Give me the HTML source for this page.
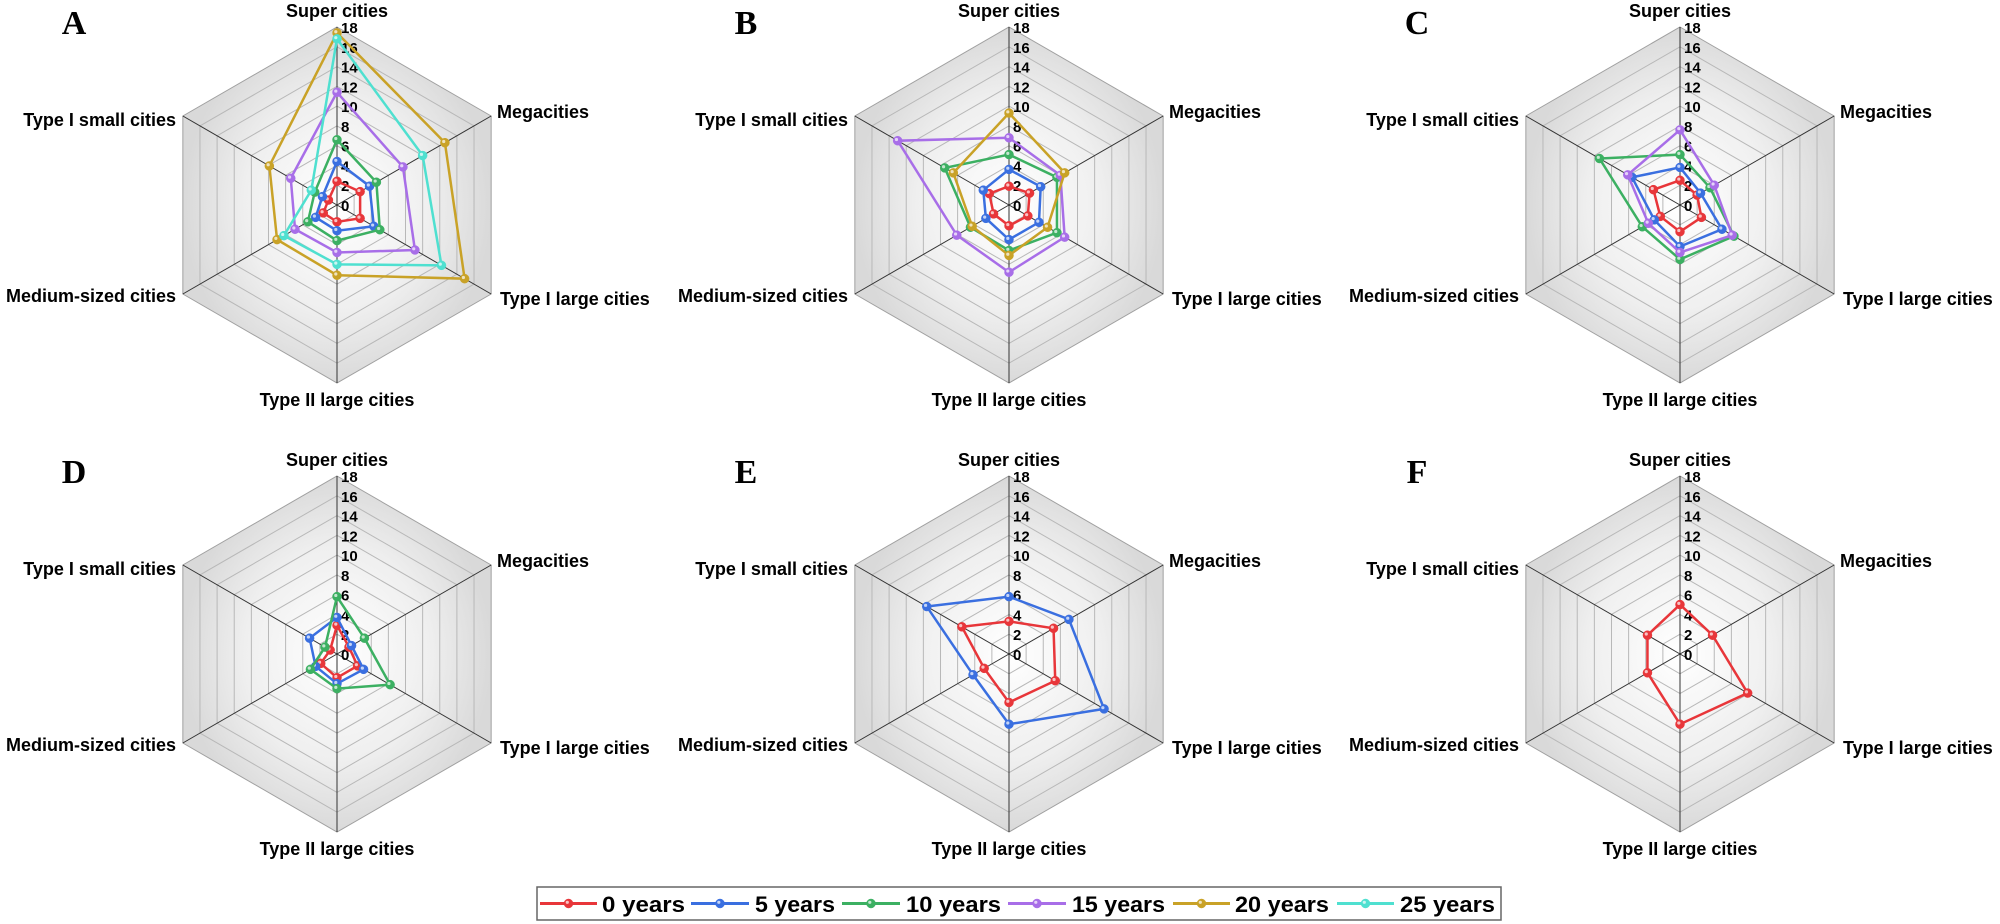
<!DOCTYPE html>
<html><head><meta charset="utf-8"><style>
html,body{margin:0;padding:0;background:#fff;}
svg{display:block;}
text{font-family:"Liberation Sans",Arial,sans-serif;font-weight:bold;fill:#000;}
.let{font-family:"Liberation Serif","Times New Roman",serif;font-size:34px;}
</style></head><body>
<svg id="s" width="2000" height="924" viewBox="0 0 2000 924" xmlns="http://www.w3.org/2000/svg">
<defs>
<radialGradient id="bg" cx="50%" cy="50%" r="50%">
<stop offset="0" stop-color="#ffffff"/><stop offset="0.6" stop-color="#efefef"/><stop offset="1" stop-color="#d9d9d9"/>
</radialGradient>
</defs>
<g id="panels"></g>
<rect x="537" y="887" width="964" height="33" fill="#fff" stroke="#666" stroke-width="1.5"/>
<g id="leg"></g>
<text x="602" y="912" font-size="22" textLength="83" lengthAdjust="spacingAndGlyphs">0 years</text>
<text x="755" y="912" font-size="22" textLength="80" lengthAdjust="spacingAndGlyphs">5 years</text>
<text x="906" y="912" font-size="22" textLength="95" lengthAdjust="spacingAndGlyphs">10 years</text>
<text x="1072" y="912" font-size="22" textLength="93" lengthAdjust="spacingAndGlyphs">15 years</text>
<text x="1235" y="912" font-size="22" textLength="94" lengthAdjust="spacingAndGlyphs">20 years</text>
<text x="1400" y="912" font-size="22" textLength="95" lengthAdjust="spacingAndGlyphs">25 years</text>
</svg>
<script>
var NS="http://www.w3.org/2000/svg";
function el(t,a,p){var e=document.createElementNS(NS,t);for(var k in a)e.setAttribute(k,a[k]);(p||document.getElementById('panels')).appendChild(e);return e;}
var cols=["#e8363a","#3a6fe0","#3cb062","#a86ee8","#c9a227","#4fe0d0"];
var R=178,U=R/18;
var labels=["Super cities","Megacities","Type I large cities","Type II large cities","Medium-sized cities","Type I small cities"];
var letters=["A","B","C","D","E","F"];
var centers=[[337,205],[1009,205],[1680,205],[337,654],[1009,654],[1680,654]];
// order: super, mega, typeI large, typeII large, medium, small
var data=[
 [[2.4,2.7,2.7,1.7,1.6,1.0],[4.4,3.8,4.3,2.6,2.5,1.7],[6.6,4.6,5.0,3.6,3.4,2.6],[11.4,7.7,9.1,4.8,4.9,5.4],[17.4,12.6,14.9,7.1,7.0,7.9],[16.8,10.0,12.2,6.0,6.2,3.0]],
 [[1.9,2.4,2.2,2.1,1.8,2.3],[3.6,3.7,3.5,3.5,2.7,3.0],[5.1,5.6,5.6,4.6,4.5,7.5],[6.8,6.0,6.5,6.8,6.1,13.0],[9.3,6.5,4.5,5.1,4.3,6.5],null],
 [[2.5,2.0,2.5,2.7,2.3,3.1],[3.8,2.4,4.9,4.2,3.0,5.6],[5.1,3.5,6.3,5.5,4.4,9.4],[7.6,4.0,6.1,4.8,3.7,6.1],null,null],
 [[2.9,1.4,2.4,2.4,1.9,0.8],[3.7,1.7,3.1,3.0,2.5,3.2],[5.8,3.2,6.2,3.5,3.1,1.4],null,null,null],
 [[3.3,5.2,5.4,4.9,2.9,5.5],[5.8,7.0,11.1,7.1,4.2,9.6],null,null,null,null],
 [[5.0,3.8,7.9,7.1,3.8,3.8],null,null,null,null,null]
];
function ang(i){return -Math.PI/2+i*Math.PI/3;}
function pt(cx,cy,i,v){var a=ang(i);return [cx+Math.cos(a)*v*U,cy+Math.sin(a)*v*U];}
function ball(x,y,c,p){el('circle',{cx:x,cy:y,r:4.5,fill:c,stroke:c,'stroke-width':0.5},p);el('circle',{cx:x-1.2,cy:y-1.2,r:1.6,fill:'#fff','fill-opacity':0.7},p);}
centers.forEach(function(c,pi){
 var cx=c[0],cy=c[1];
 var hex=[];for(var i=0;i<6;i++){var q=pt(cx,cy,i,18);hex.push(q.join(','));}
 el('polygon',{points:hex.join(' '),fill:'url(#bg)',stroke:'#a0a0a0','stroke-width':1});
 for(var r=2;r<18;r+=2){var h=[];for(var i=0;i<6;i++){h.push(pt(cx,cy,i,r).join(','));}
  el('polygon',{points:h.join(' '),fill:'none',stroke:'#b8b8b8','stroke-width':1});}
 for(var i=0;i<6;i++){var q=pt(cx,cy,i,18);el('line',{x1:cx,y1:cy,x2:q[0],y2:q[1],stroke:'#333','stroke-width':1});}
 for(var v=0;v<=18;v+=2){var t=el('text',{x:cx+4,y:cy-v*U+6,'font-size':15});t.textContent=String(v);}
 var L=[[cx,cy-188,'middle'],[cx+160,cy-87,'start'],[cx+163,cy+100,'start'],[cx,cy+201,'middle'],[cx-161,cy+97,'end'],[cx-161,cy-79,'end']];
 for(var i=0;i<6;i++){var t=el('text',{x:L[i][0],y:L[i][1],'text-anchor':L[i][2],'font-size':18});t.textContent=labels[i];}
 var t=el('text',{x:cx-263,y:cy-171,'text-anchor':'middle','class':'let'});t.textContent=letters[pi];
 data[pi].forEach(function(d,si){if(!d)return;var ps=[];for(var i=0;i<6;i++)ps.push(pt(cx,cy,i,d[i]));
  el('polygon',{points:ps.map(function(p){return p.join(',')}).join(' '),fill:'none',stroke:cols[si],'stroke-width':2.5});
  ps.forEach(function(p){ball(p[0],p[1],cols[si]);});});
});
var leg=document.getElementById('leg');
var lx=[[540,597],[691,749],[842,900],[1008,1066],[1173,1230],[1337,1394]];
lx.forEach(function(s,i){el('line',{x1:s[0],y1:903.5,x2:s[1],y2:903.5,stroke:cols[i],'stroke-width':3},leg);ball((s[0]+s[1])/2,903.5,cols[i],leg);});
</script>
</body></html>
